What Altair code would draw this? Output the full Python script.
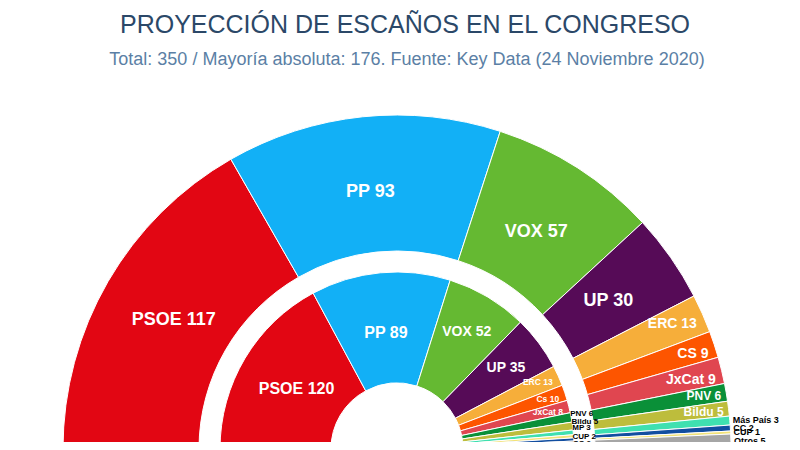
import math
import pandas as pd
import altair as alt

# ---------------- data ----------------
TITLE = "PROYECCIÓN DE ESCAÑOS EN EL CONGRESO"
SUBTITLE = "Total: 350 / Mayoría absoluta: 176. Fuente: Key Data (24 Noviembre 2020)"

OUT_PARTIES = ["PSOE", "PP", "VOX", "UP", "ERC", "CS", "JxCat", "PNV", "Bildu",
               "Más País", "CC", "CUP", "Otros"]
OUT_SEATS = [117, 93, 57, 30, 13, 9, 9, 6, 5, 3, 2, 1, 5]

IN_PARTIES = ["PSOE", "PP", "VOX", "UP", "ERC", "Cs", "JxCat", "PNV", "Bildu",
              "MP", "CUP", "CC", "Otros"]
IN_SEATS = [120, 89, 52, 35, 13, 10, 8, 6, 5, 3, 2, 2, 5]

# ---------------- styles ----------------
COLORS = {
    "PSOE": "#e20613", "PP": "#12b0f6", "VOX": "#65b932", "UP": "#560b57",
    "ERC": "#f6ae3a", "CS": "#fd5500", "JxCat": "#e04650", "PNV": "#0a9038",
    "Bildu": "#bdbd3c", "Más País": "#3fe0b0", "CC": "#124ea0", "CUP": "#f2e278",
    "Otros": "#a6a6a6",
}
ALIAS = {"Cs": "CS", "MP": "Más País"}
FONT = "Liberation Sans"

CX, CY = 389, 441          # centre of the hemicycle (chart coords)
W, H = 784, 434


def build(parties, seats, groups):
    rows = []
    for i, (p, s) in enumerate(zip(parties, seats)):
        row = {"idx": i, "partido": p, "escanos": s,
               "color": COLORS[ALIAS.get(p, p)]}
        for g, idxs in groups.items():
            row[g] = f"{p} {s}" if i in idxs else ""
        rows.append(row)
    return pd.DataFrame(rows)


out_df = build(OUT_PARTIES, OUT_SEATS, {
    "lab_big": range(0, 4), "lab_mid": range(4, 7),
    "lab_small": range(7, 9), "lab_ext": range(9, 13)})
in_df = build(IN_PARTIES, IN_SEATS, {
    "lab_big_a": range(0, 2), "lab_big_b": range(2, 4),
    "lab_mid": range(4, 7), "lab_ext_a": range(7, 10),
    "lab_ext_b": range(10, 11), "lab_ext_c": range(11, 13)})


def ring(df, total, r_in, r_out, labels):
    scale = alt.Scale(domain=[0, total], range=[1.5 * math.pi, 2.5 * math.pi])
    base = alt.Chart(df).transform_window(
        cum="sum(escanos)", sort=[alt.SortField("idx")], frame=[None, 0]
    ).transform_calculate(
        th_start="datum.cum - datum.escanos",
        th_mid="datum.cum - datum.escanos / 2",
    )
    arcs = base.mark_arc(innerRadius=r_in, outerRadius=r_out,
                         stroke="white", strokeWidth=1).encode(
        theta=alt.Theta("th_start:Q", scale=scale),
        theta2="cum:Q",
        color=alt.Color("color:N", scale=None),
        x=alt.value(CX), y=alt.value(CY),
        tooltip=["partido:N", "escanos:Q"],
    )
    layers = [arcs]
    for field, radius, align, size, col, dy in labels:
        layers.append(base.mark_text(
            radius=radius, align=align, baseline="middle", font=FONT,
            fontSize=size, fontWeight="bold", color=col, dy=dy,
        ).encode(
            theta=alt.Theta("th_mid:Q", scale=scale),
            text=f"{field}:N",
            x=alt.value(CX), y=alt.value(CY),
        ))
    return layers


outer = ring(out_df, sum(OUT_SEATS), 198, 334, [
    ("lab_big", 258, "center", 18, "white", 0),
    ("lab_mid", 328, "right", 14, "white", 8),
    ("lab_small", 329, "right", 12, "white", 3),
    ("lab_ext", 337, "left", 9, "black", 0),
])
inner = ring(in_df, sum(IN_SEATS), 66, 177, [
    ("lab_big_a", 117, "center", 16, "white", 0),
    ("lab_big_b", 136, "center", 14, "white", 0),
    ("lab_mid", 171, "right", 8.5, "white", 4),
    ("lab_ext_a", 176, "left", 8, "black", -4),
    ("lab_ext_b", 176, "left", 8, "black", 1),
    ("lab_ext_c", 176, "left", 8, "black", 4),
])

title = alt.Chart(pd.DataFrame({"t": [TITLE]})).mark_text(
    font=FONT, fontSize=25, color="#2b4868", align="center", baseline="alphabetic"
).encode(text="t:N", x=alt.value(397), y=alt.value(25))
subtitle = alt.Chart(pd.DataFrame({"t": [SUBTITLE]})).mark_text(
    font=FONT, fontSize=18, color="#5b7fa5", align="center", baseline="alphabetic"
).encode(text="t:N", x=alt.value(399), y=alt.value(57))

chart = alt.layer(*outer, *inner, title, subtitle).properties(
    width=W, height=H,
    autosize=alt.AutoSizeParams(type="none"),
    padding=0,
).configure_view(stroke=None)

chart.save("out.html", embed_options={"renderer": "svg", "actions": False})
